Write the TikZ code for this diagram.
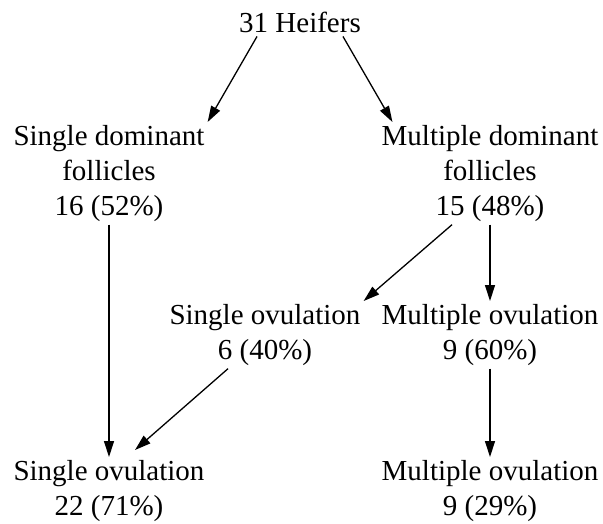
\documentclass[tikz,border=0pt]{standalone}
\usepackage{fontspec}
\setmainfont{Liberation Serif}
\usetikzlibrary{arrows.meta}

\begin{document}
\begin{tikzpicture}[x=1pt,y=-1pt,
  box/.style={font=\fontsize{29}{35}\selectfont,align=center,inner sep=3pt},
  arr/.style={-{Triangle[length=16pt,width=10pt]},line width=1.3pt}]
\useasboundingbox (0,0) rectangle (603,524);
% 노드
\node[box,anchor=base] (heifers) at (300,33) {31 Heifers};
\node[box,anchor=north] (sdf) at (109,122) {Single dominant\\follicles\\16 (52\%)};
\node[box,anchor=north] (mdf) at (490,122) {Multiple dominant\\follicles\\15 (48\%)};
\node[box,anchor=north] (sovm) at (265,301) {Single ovulation\\6 (40\%)};
\node[box,anchor=north] (movm) at (490,301) {Multiple ovulation\\9 (60\%)};
\node[box,anchor=north] (sovb) at (109,457) {Single ovulation\\22 (71\%)};
\node[box,anchor=north] (movb) at (490,457) {Multiple ovulation\\9 (29\%)};
% 화살표
\draw[arr] ([xshift=21pt]heifers.south west) -- (sdf.north east);
\draw[arr] ([xshift=-21pt]heifers.south east) -- ([xshift=14pt]mdf.north west);
\draw[arr] (sdf) -- (sovb);
\draw[arr] ([xshift=-38pt]mdf.south) -- (sovm.north east);
\draw[arr] (mdf) -- (movm);
\draw[arr] ([xshift=-37pt]sovm.south) -- ([xshift=26pt,yshift=7pt]sovb.north);
\draw[arr] (movm) -- (movb);
\end{tikzpicture}
\end{document}
